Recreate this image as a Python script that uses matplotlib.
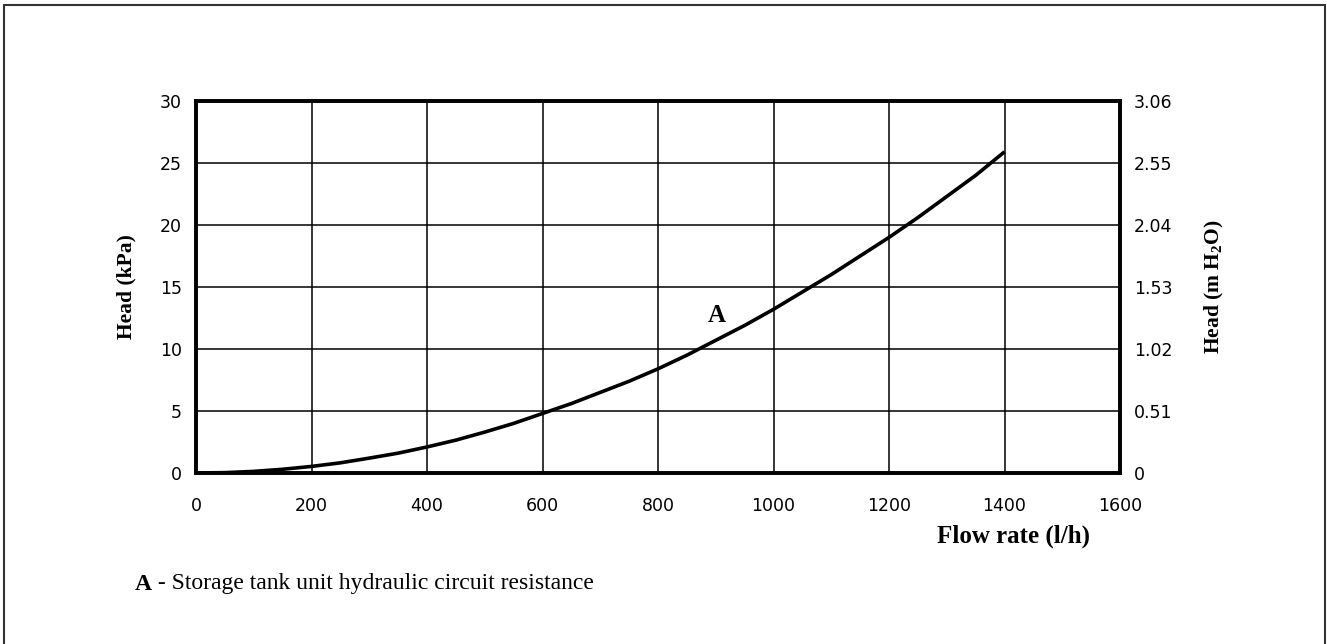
import matplotlib
matplotlib.use('Agg')
import matplotlib.pyplot as plt
from matplotlib.patches import Rectangle

# flow rate (l/h) vs head (kPa)
flow = [0, 50, 100, 150, 200, 250, 300, 350, 400, 450, 500, 550, 600, 650, 700,
        750, 800, 850, 900, 950, 1000, 1050, 1100, 1150, 1200, 1250, 1300, 1350, 1400]
head = [0, 0.03, 0.13, 0.3, 0.53, 0.82, 1.2, 1.6, 2.1, 2.65, 3.3, 4.0, 4.8, 5.6, 6.5,
        7.4, 8.4, 9.5, 10.7, 11.9, 13.2, 14.6, 16.0, 17.5, 19.0, 20.6, 22.3, 24.0, 25.9]

x_ticks = [0, 200, 400, 600, 800, 1000, 1200, 1400, 1600]
y_ticks = [0, 5, 10, 15, 20, 25, 30]
y2_labels = ['0', '0.51', '1.02', '1.53', '2.04', '2.55', '3.06']

tick_font = 'DejaVu Sans'
label_font = 'Liberation Serif'

fig = plt.figure(figsize=(13.27, 6.44), dpi=100)
ax = fig.add_axes([196 / 1327, 1 - 473 / 644, 924 / 1327, 372 / 644])

ax.plot(flow, head, color='black', lw=2.6, solid_capstyle='butt',
        solid_joinstyle='round', zorder=3)

ax.set_xlim(0, 1600)
ax.set_ylim(0, 30)
ax.set_xticks(x_ticks)
ax.set_yticks(y_ticks)
ax.grid(True, color='black', lw=1.1)
ax.tick_params(length=0, labelsize=12.5)
ax.tick_params(axis='y', pad=10)
ax.tick_params(axis='x', pad=17)
for lbl in ax.get_xticklabels() + ax.get_yticklabels():
    lbl.set_fontfamily(tick_font)
for sp in ax.spines.values():
    sp.set_linewidth(2.6)

ax2 = ax.twinx()
ax2.set_ylim(0, 30)
ax2.set_yticks(y_ticks)
ax2.set_yticklabels(y2_labels, fontfamily=tick_font)
ax2.tick_params(length=0, labelsize=12.5, pad=10)
for sp in ax2.spines.values():
    sp.set_linewidth(2.6)

ax.set_ylabel('Head (kPa)', fontfamily=label_font, fontweight='bold', fontsize=15.5, labelpad=17)
ax2.set_ylabel(r'Head (m H$_\mathregular{2}$O)', fontfamily=label_font, fontweight='bold',
               fontsize=15.5, labelpad=22, rotation=90)

ax.text(902, 12.7, 'A', fontfamily=label_font, fontweight='bold', fontsize=18,
        ha='center', va='center')

fig.text(1090 / 1327, 1 - 536 / 644, 'Flow rate (l/h)', fontfamily=label_font,
         fontweight='bold', fontsize=18, ha='right', va='center')
fig.text(135 / 1327, 1 - 584 / 644, 'A', fontfamily=label_font, fontweight='bold',
         fontsize=17, ha='left', va='center')
fig.text(152 / 1327, 1 - 584 / 644, ' - Storage tank unit hydraulic circuit resistance',
         fontfamily=label_font, fontsize=17, ha='left', va='center')

# outer frame
fig.patches.append(Rectangle((4 / 1327, -0.01), 1321 / 1327, 1 - 5 / 644 + 0.01,
                             transform=fig.transFigure, fill=False,
                             edgecolor='#333333', lw=1.5))

fig.savefig('out.png', dpi=100)
